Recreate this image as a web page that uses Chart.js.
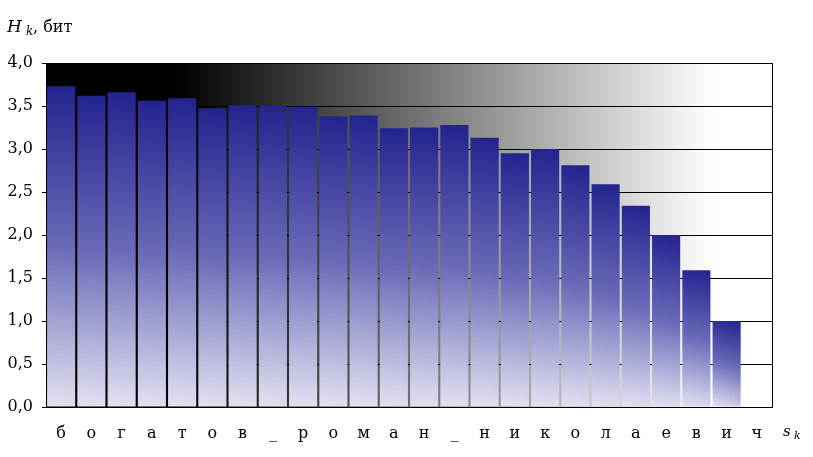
<!DOCTYPE html>
<html>
<head>
<meta charset="utf-8">
<script src="https://cdn.jsdelivr.net/npm/chart.js@4"></script>
<style>
  body { margin: 0; background: #fff; }
  #wrap { width: 813px; height: 457px; }
</style>
</head>
<body>
<div id="wrap"><canvas id="entropyChart"></canvas></div>
<script>
// letters of the name (s_k) and entropy per letter (H_k, bits)
const letters = ['б', 'о', 'г', 'а', 'т', 'о', 'в', '_', 'р', 'о', 'м', 'а', 'н', '_',
                 'н', 'и', 'к', 'о', 'л', 'а', 'е', 'в', 'и', 'ч'];
const entropy = [3.73, 3.62, 3.66, 3.56, 3.59, 3.47, 3.51, 3.50, 3.49, 3.38, 3.39, 3.24,
                 3.25, 3.28, 3.13, 2.95, 3.00, 2.81, 2.59, 2.34, 2.00, 1.59, 1.00, null];
const yTicks = [0, 0.5, 1, 1.5, 2, 2.5, 3, 3.5, 4];

const serif = '"DejaVu Serif", "Liberation Serif", serif';

// gray background behind the bars, black on the left to white on the right
const backgroundPlugin = {
    id: 'plotBackground',
    beforeDraw(chart) {
        const { ctx, chartArea: a } = chart;
        const g = ctx.createLinearGradient(a.left, 0, a.right, 0);
        g.addColorStop(0, '#000');
        g.addColorStop(0.18, '#000');
        g.addColorStop(0.92, '#fff');
        g.addColorStop(1, '#fff');
        ctx.save();
        ctx.fillStyle = g;
        ctx.fillRect(a.left, a.top, a.right - a.left, a.bottom - a.top);
        ctx.restore();
    },
    afterDraw(chart) {
        const { ctx, chartArea: a } = chart;
        ctx.save();
        // right frame line
        ctx.strokeStyle = '#000';
        ctx.lineWidth = 1;
        ctx.beginPath();
        ctx.moveTo(Math.round(a.right) + 0.5, a.top);
        ctx.lineTo(Math.round(a.right) + 0.5, a.bottom);
        ctx.stroke();

        // axis captions
        ctx.fillStyle = '#000';
        ctx.textBaseline = 'alphabetic';
        ctx.textAlign = 'left';
        ctx.font = 'italic 17px ' + serif;
        ctx.fillText('H', 7, 32);
        ctx.font = 'italic 12px ' + serif;
        ctx.fillText('k', 26, 35);
        ctx.font = '16px ' + serif;
        ctx.fillText(', бит', 33, 32);

        ctx.font = 'italic 15px ' + serif;
        ctx.fillText('s', 783, 436);
        ctx.font = 'italic 11px ' + serif;
        ctx.fillText('k', 794, 439);
        ctx.restore();
    }
};

// each bar fades from dark blue (top right) to pale lavender (bottom left)
function barGradient(context) {
    const chart = context.chart;
    const { ctx, chartArea, scales } = chart;
    if (!chartArea || context.raw == null) return '#2a2a9c';
    const x = scales.x.getPixelForValue(context.dataIndex);
    const top = scales.y.getPixelForValue(context.raw);
    const bottom = scales.y.getPixelForValue(0);
    const g = ctx.createLinearGradient(x + 14, top, x - 14, bottom);
    g.addColorStop(0, '#23238f');
    g.addColorStop(0.5, '#6a6ab8');
    g.addColorStop(1, '#e2e2f2');
    return g;
}

const ctx = document.getElementById('entropyChart').getContext('2d');
new Chart(ctx, {
    type: 'bar',
    data: {
        labels: letters,
        datasets: [{
            data: entropy,
            backgroundColor: barGradient,
            borderWidth: 0,
            categoryPercentage: 1,
            barPercentage: 0.93
        }]
    },
    options: {
        responsive: true,
        maintainAspectRatio: false,
        animation: false,
        layout: { padding: { top: 63, right: 41, left: 0, bottom: 0 } },
        plugins: {
            legend: { display: false },
            tooltip: { enabled: false }
        },
        scales: {
            x: {
                grid: { display: false },
                border: { display: true, color: '#000', width: 1 },
                ticks: {
                    color: '#000',
                    padding: 9,
                    maxRotation: 0,
                    autoSkip: false,
                    font: { family: serif, size: 16 }
                },
                afterFit(scale) { scale.height = 50; }
            },
            y: {
                min: 0,
                max: 4,
                afterBuildTicks(scale) {
                    scale.ticks = yTicks.map(v => ({ value: v }));
                },
                grid: {
                    color: '#000',
                    lineWidth: 1,
                    drawTicks: true,
                    tickLength: 4,
                    tickColor: '#000'
                },
                border: { display: false },
                ticks: {
                    color: '#000',
                    padding: 9,
                    font: { family: serif, size: 16 },
                    callback: v => v.toFixed(1).replace('.', ',')
                },
                afterFit(scale) { scale.width = 46; }
            }
        }
    },
    plugins: [backgroundPlugin]
});
</script>
</body>
</html>
